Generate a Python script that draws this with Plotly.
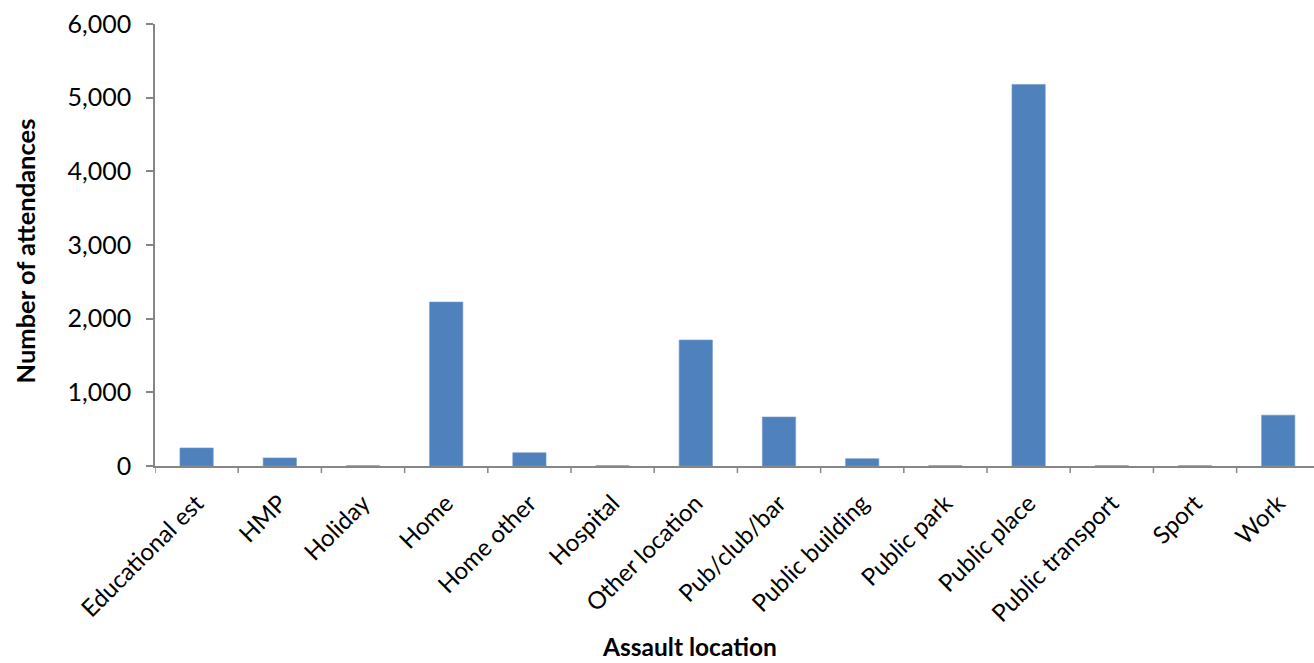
import plotly.graph_objects as go

# Assault locations and number of attendances at each
locations = [
    "Educational est", "HMP", "Holiday", "Home", "Home other", "Hospital",
    "Other location", "Pub/club/bar", "Public building", "Public park",
    "Public place", "Public transport", "Sport", "Work",
]
attendances = [245, 110, 5, 2225, 180, 5, 1710, 665, 100, 5, 5180, 5, 5, 690]

y_ticks = [0, 1000, 2000, 3000, 4000, 5000, 6000]
y_tick_labels = ["0", "1,000", "2,000", "3,000", "4,000", "5,000", "6,000"]

FONT = "Lato, Calibri, Carlito, sans-serif"
AXIS_GREY = "#868686"

W, H = 1314, 663
M_L, M_R, M_T, M_B = 155, 0, 24, 197
plot_w = W - M_L - M_R
plot_h = H - M_T - M_B

fig = go.Figure(
    go.Bar(
        x=list(range(len(locations))),
        y=attendances,
        marker=dict(color="#4F81BD", line=dict(color="#6E98CC", width=0.6)),
        width=0.4,
    )
)

fig.update_layout(
    width=W,
    height=H,
    margin=dict(l=M_L, r=M_R, t=M_T, b=M_B),
    paper_bgcolor="white",
    plot_bgcolor="white",
    showlegend=False,
    font=dict(family=FONT, size=24, color="black"),
)

fig.update_xaxes(
    range=[-0.5, 13.43],
    automargin=False,
    tickmode="array",
    tickvals=list(range(len(locations))),
    ticktext=locations,
    tickangle=-45,
    showgrid=False,
    zeroline=False,
    showline=True,
    linecolor=AXIS_GREY,
    linewidth=1.5,
    ticks="",
    tickfont=dict(family=FONT, size=24),
    ticklabelstandoff=12,
)

# category boundary tick marks below the axis
for k in range(len(locations) + 1):
    fig.add_shape(
        type="line", xref="x", yref="paper",
        x0=k - 0.5, x1=k - 0.5, y0=0, y1=-0.016,
        line=dict(color=AXIS_GREY, width=1.5),
    )

fig.update_yaxes(
    range=[0, 6000],
    automargin=False,
    tickmode="array",
    tickvals=y_ticks,
    ticktext=y_tick_labels,
    showgrid=False,
    zeroline=False,
    showline=True,
    linecolor=AXIS_GREY,
    linewidth=1.5,
    ticks="outside",
    ticklen=7,
    tickcolor=AXIS_GREY,
    tickwidth=1.5,
    tickfont=dict(family=FONT, size=25),
    ticklabelstandoff=10,
)

# axis titles
fig.add_annotation(
    text="<b>Assault location</b>",
    xref="paper", yref="paper",
    x=(689 - M_L) / plot_w, y=-(646 - (M_T + plot_h)) / plot_h,
    xanchor="center", yanchor="middle", showarrow=False,
    font=dict(family=FONT, size=24.5, color="black"),
)
fig.add_annotation(
    text="<b>Number of attendances</b>",
    xref="paper", yref="paper",
    x=-(M_L - 25) / plot_w, y=1 - (251.5 - M_T) / plot_h,
    xanchor="center", yanchor="middle", textangle=-90, showarrow=False,
    font=dict(family=FONT, size=25.5, color="black"),
)

fig.write_html("out.html")
